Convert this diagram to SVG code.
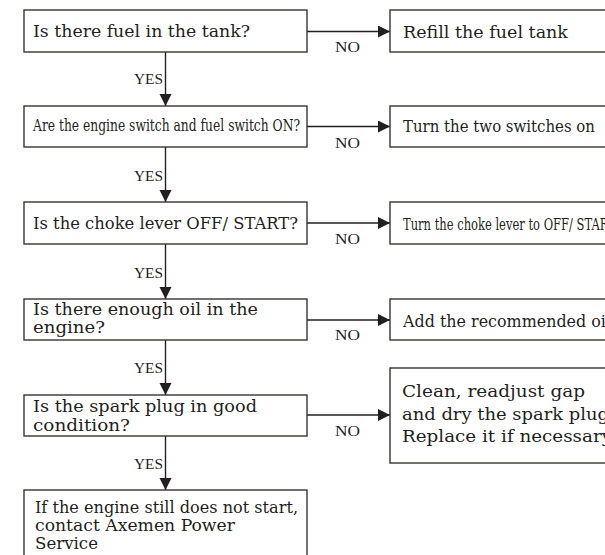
<svg xmlns="http://www.w3.org/2000/svg" width="605" height="555" viewBox="0 0 605 555">
<style>
.box{fill:#fff;stroke:#3a3431;stroke-width:1.4}
.t{font-family:"DejaVu Serif","Liberation Serif",serif;font-size:16px;fill:#231f20}
.c{font-family:"DejaVu Serif","Liberation Serif",serif;font-size:16px;fill:#231f20}
.lbl{font-family:"Liberation Serif","DejaVu Serif",serif;font-size:15px;fill:#231f20}
.ln{stroke:#231f20;stroke-width:1.4;fill:none}
</style>
<defs>
<marker id="ah" markerWidth="13" markerHeight="13" refX="12" refY="6" orient="auto" markerUnits="userSpaceOnUse">
<path d="M0,0 L12,6 L0,12 Z" fill="#231f20"/>
</marker>
</defs>
<rect width="605" height="555" fill="#fff"/>
<g id="connectors">
<line class="ln" x1="307" y1="31.5" x2="390" y2="31.5" marker-end="url(#ah)"/>
<line class="ln" x1="307" y1="126.5" x2="390" y2="126.5" marker-end="url(#ah)"/>
<line class="ln" x1="307" y1="223" x2="390" y2="223" marker-end="url(#ah)"/>
<line class="ln" x1="307" y1="320" x2="390" y2="320" marker-end="url(#ah)"/>
<line class="ln" x1="307" y1="415" x2="390" y2="415" marker-end="url(#ah)"/>
<line class="ln" x1="165.5" y1="52" x2="165.5" y2="106" marker-end="url(#ah)"/>
<line class="ln" x1="165.5" y1="147" x2="165.5" y2="202" marker-end="url(#ah)"/>
<line class="ln" x1="165.5" y1="244" x2="165.5" y2="299" marker-end="url(#ah)"/>
<line class="ln" x1="165.5" y1="340" x2="165.5" y2="395" marker-end="url(#ah)"/>
<line class="ln" x1="165.5" y1="436" x2="165.5" y2="490" marker-end="url(#ah)"/>
<text class="lbl" x="335" y="52" textLength="25" lengthAdjust="spacingAndGlyphs">NO</text>
<text class="lbl" x="335" y="147.5" textLength="25" lengthAdjust="spacingAndGlyphs">NO</text>
<text class="lbl" x="335" y="243.5" textLength="25" lengthAdjust="spacingAndGlyphs">NO</text>
<text class="lbl" x="335" y="340" textLength="25" lengthAdjust="spacingAndGlyphs">NO</text>
<text class="lbl" x="335" y="436" textLength="25" lengthAdjust="spacingAndGlyphs">NO</text>
<text class="lbl" x="134" y="84" textLength="29" lengthAdjust="spacingAndGlyphs">YES</text>
<text class="lbl" x="134" y="181" textLength="29" lengthAdjust="spacingAndGlyphs">YES</text>
<text class="lbl" x="134" y="278" textLength="29" lengthAdjust="spacingAndGlyphs">YES</text>
<text class="lbl" x="134" y="373" textLength="29" lengthAdjust="spacingAndGlyphs">YES</text>
<text class="lbl" x="134" y="469" textLength="29" lengthAdjust="spacingAndGlyphs">YES</text>
</g>
<g id="q1">
<rect class="box" x="24" y="10" width="283" height="42"/>
<text class="t" x="33" y="37" textLength="217" lengthAdjust="spacingAndGlyphs">Is there fuel in the tank?</text>
</g>
<g id="q2">
<rect class="box" x="24" y="106" width="283" height="41"/>
<text class="c" x="33" y="131" textLength="267" lengthAdjust="spacingAndGlyphs">Are the engine switch and fuel switch ON?</text>
</g>
<g id="q3">
<rect class="box" x="24" y="202" width="283" height="42"/>
<text class="t" x="33" y="229" textLength="265" lengthAdjust="spacingAndGlyphs">Is the choke lever OFF/ START?</text>
</g>
<g id="q4">
<rect class="box" x="24" y="299" width="283" height="41"/>
<text class="t" x="33" y="315" textLength="225" lengthAdjust="spacingAndGlyphs">Is there enough oil in the</text>
<text class="t" x="33" y="333" textLength="72" lengthAdjust="spacingAndGlyphs">engine?</text>
</g>
<g id="q5">
<rect class="box" x="24" y="395" width="283" height="41"/>
<text class="t" x="33" y="412" textLength="224" lengthAdjust="spacingAndGlyphs">Is the spark plug in good</text>
<text class="t" x="33" y="431" textLength="97" lengthAdjust="spacingAndGlyphs">condition?</text>
</g>
<g id="end">
<rect class="box" x="24" y="490" width="283" height="80"/>
<text class="t" x="35" y="513" textLength="263" lengthAdjust="spacingAndGlyphs">If the engine still does not start,</text>
<text class="t" x="35" y="531" textLength="200" lengthAdjust="spacingAndGlyphs">contact Axemen Power</text>
<text class="t" x="35" y="549" textLength="63" lengthAdjust="spacingAndGlyphs">Service</text>
</g>
<g id="a1">
<rect class="box" x="390" y="10" width="230" height="42"/>
<text class="t" x="403" y="38" textLength="165" lengthAdjust="spacingAndGlyphs">Refill the fuel tank</text>
</g>
<g id="a2">
<rect class="box" x="390" y="106" width="230" height="41"/>
<text class="t" x="403" y="132" textLength="192" lengthAdjust="spacingAndGlyphs">Turn the two switches on</text>
</g>
<g id="a3">
<rect class="box" x="390" y="202" width="230" height="42"/>
<text class="c" x="403" y="230" textLength="213" lengthAdjust="spacingAndGlyphs">Turn the choke lever to OFF/ START</text>
</g>
<g id="a4">
<rect class="box" x="390" y="299" width="230" height="41"/>
<text class="t" x="403" y="327" textLength="208" lengthAdjust="spacingAndGlyphs">Add the recommended oil</text>
</g>
<g id="a5">
<rect class="box" x="390" y="368" width="230" height="95"/>
<text class="t" x="402" y="397" textLength="183" lengthAdjust="spacingAndGlyphs">Clean, readjust gap</text>
<text class="t" x="402" y="420" textLength="207" lengthAdjust="spacingAndGlyphs">and dry the spark plug</text>
<text class="t" x="402" y="442" textLength="210" lengthAdjust="spacingAndGlyphs">Replace it if necessary</text>
</g>
</svg>
